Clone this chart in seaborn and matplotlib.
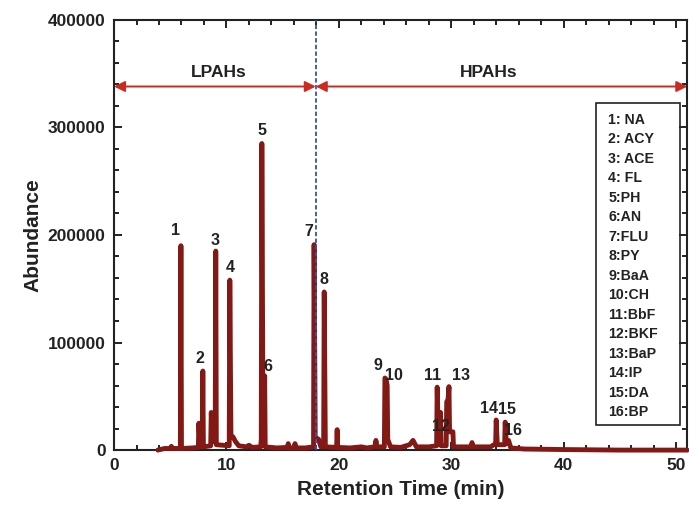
import matplotlib
matplotlib.use("Agg")
import matplotlib.pyplot as plt
from matplotlib.patches import Rectangle
from matplotlib.ticker import MultipleLocator
import seaborn as sns

# Chromatogram trace (time in min, abundance)
retention_time = [
    3.9, 4.5, 5.0, 5.1, 5.2, 5.9, 5.95, 6.0, 7.0, 7.5, 7.55, 7.65, 7.85,
    7.9, 7.95, 8.6, 8.65, 8.75, 9.0, 9.05, 9.1, 10.25, 10.3, 10.4, 10.6,
    10.8, 11.1, 11.8, 12.0, 12.3, 13.05, 13.1, 13.15, 13.25, 13.35, 13.4,
    13.45, 14.5, 15.4, 15.5, 15.6, 16.0, 16.1, 16.2, 17.0, 17.75, 17.8,
    17.9, 18.2, 18.4, 18.65, 18.7, 18.8, 19.8, 19.85, 19.9, 21.0, 22.0,
    22.5, 23.2, 23.3, 23.4, 24.05, 24.1, 24.2, 24.3, 24.35, 24.6, 25.5,
    26.3, 26.6, 26.9, 28.0, 28.7, 28.75, 28.85, 29.0, 29.05, 29.1, 29.55,
    29.6, 29.7, 29.8, 29.85, 30.15, 30.2, 31.8, 31.85, 31.9, 33.5, 33.95,
    34.0, 34.1, 34.75, 34.8, 34.9, 35.1, 35.3, 36.5, 40.0, 45.0, 51.0,
]
abundance = [
    0, 1500, 1500, 3500, 1500, 1500, 190000, 1500, 2000, 2500, 25000, 3000,
    3000, 73500, 3000, 4000, 35000, 8000, 8000, 185000, 5000, 4000, 158000,
    14000, 12000, 8000, 4000, 3000, 4500, 2500, 3000, 10000, 285000, 30000,
    30000, 69000, 3000, 2000, 2500, 6000, 2000, 2000, 6000, 2000, 2000,
    3000, 191000, 12000, 10000, 3000, 3000, 147000, 3000, 2500, 19000, 2500,
    2000, 3000, 2000, 3000, 9000, 3000, 3000, 67000, 66000, 60000, 10000,
    3000, 2500, 5000, 9000, 3000, 3000, 4000, 58500, 10000, 10000, 35000,
    4000, 4000, 45000, 45000, 59000, 17000, 17000, 3000, 3000, 7000, 3000,
    3000, 6000, 28000, 5000, 5000, 26000, 6000, 9000, 2000, 1000, 500, 0, 0,
]

# Peak number labels (x, y)
peak_ids = ["1", "2", "3", "4", "5", "6", "7", "8", "9", "10", "11", "12",
            "13", "14", "15", "16"]
label_x = [5.5, 7.65, 8.97, 10.3, 13.15, 13.7, 17.3, 18.65, 23.45, 24.9,
           28.3, 29.05, 30.9, 33.4, 35.0, 35.5]
label_y = [203700, 85600, 194400, 169300, 296700, 78000, 202800, 159000,
           79000, 69800, 69800, 22300, 69800, 39000, 38100, 18600]

legend_labels = ["1: NA", "2: ACY", "3: ACE", "4: FL", "5:PH", "6:AN",
                 "7:FLU", "8:PY", "9:BaA", "10:CH", "11:BbF", "12:BKF",
                 "13:BaP", "14:IP", "15:DA", "16:BP"]

split_time = 17.95
arrow_level = 338000

sns.set_style("ticks")
plt.rcParams["font.family"] = ["Liberation Sans", "DejaVu Sans"]
plt.rcParams["font.weight"] = "bold"

fig = plt.figure(figsize=(6.89, 5.08), dpi=100)
ax = fig.add_axes([0.1655, 0.114, 0.832, 0.847])

trace_color = "#821914"
arrow_color = "#cc2a1f"

sns.lineplot(x=retention_time, y=abundance, sort=False, estimator=None,
             color=trace_color, linewidth=3.5, ax=ax, zorder=5)
ax.lines[-1].set_clip_on(False)
ax.lines[-1].set_solid_joinstyle("round")
ax.lines[-1].set_solid_capstyle("round")

ax.axvline(split_time, color="#3a4fb0", linestyle=(0, (2.4, 1.3)),
           linewidth=1.3, zorder=6)

# LPAH / HPAH double arrows
ax.annotate("", xy=(0, arrow_level), xytext=(split_time, arrow_level),
            arrowprops=dict(arrowstyle="<|-|>", color=arrow_color, lw=1.4,
                            mutation_scale=16, shrinkA=0, shrinkB=0))
ax.annotate("", xy=(split_time, arrow_level), xytext=(51, arrow_level),
            arrowprops=dict(arrowstyle="<|-|>", color=arrow_color, lw=1.4,
                            mutation_scale=16, shrinkA=0, shrinkB=0))
ax.text(9.3, 351000, "LPAHs", ha="center", va="center", fontsize=12.5,
        fontweight="bold", color="#222222")
ax.text(33.3, 351000, "HPAHs", ha="center", va="center", fontsize=12.5,
        fontweight="bold", color="#222222")

for pid, px, py in zip(peak_ids, label_x, label_y):
    ax.text(px, py, pid, ha="center", va="center", fontsize=11.5,
            fontweight="bold", color="#222222", zorder=7)

# compound key box
ax.add_patch(Rectangle((0.841, 0.058), 0.147, 0.749, transform=ax.transAxes,
                       fill=False, edgecolor="#222222", linewidth=1.2,
                       zorder=8))
for i, lab in enumerate(legend_labels):
    ax.text(0.862, 0.768 - i * 0.04535, lab, transform=ax.transAxes,
            ha="left", va="center", fontsize=10.2, fontweight="bold",
            color="#222222", zorder=8)

ax.set_xlim(0, 51)
ax.set_ylim(0, 400000)
ax.xaxis.set_major_locator(MultipleLocator(10))
ax.xaxis.set_minor_locator(MultipleLocator(2))
ax.yaxis.set_major_locator(MultipleLocator(100000))
ax.yaxis.set_minor_locator(MultipleLocator(20000))
ax.tick_params(which="both", direction="in", top=True, right=True,
               width=1.4, colors="#222222", labelsize=12.5)
ax.tick_params(which="major", length=6, pad=6)
ax.tick_params(which="minor", length=3.5)
for lab in ax.get_xticklabels() + ax.get_yticklabels():
    lab.set_fontweight("bold")
for sp in ax.spines.values():
    sp.set_visible(True)
    sp.set_linewidth(1.5)
    sp.set_color("#222222")

ax.set_xlabel("Retention Time (min)", fontsize=15, fontweight="bold",
              color="#222222", labelpad=5)
ax.set_ylabel("Abundance", fontsize=15, fontweight="bold", color="#222222",
              labelpad=4)

fig.savefig("out.png", dpi=100)
